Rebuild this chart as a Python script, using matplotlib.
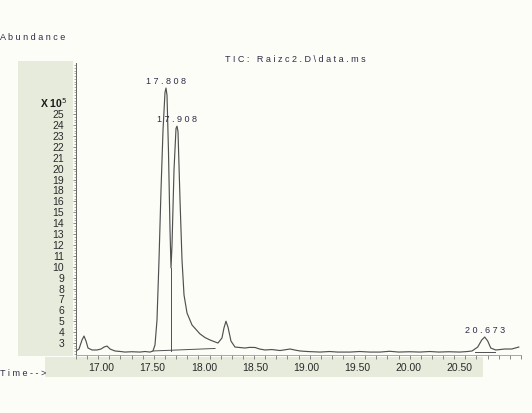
import matplotlib
matplotlib.use("Agg")
import matplotlib.pyplot as plt
from matplotlib.patches import Rectangle
from matplotlib.ticker import MultipleLocator, FixedLocator

# TIC trace: retention time (min), abundance (tick-slot units, x 10^5)
time_min = [17.000, 17.027, 17.054, 17.072, 17.090, 17.108, 17.144, 17.189, 17.225, 17.252,
            17.279, 17.306, 17.350, 17.400, 17.440, 17.500, 17.575, 17.620, 17.665, 17.692,
            17.710, 17.728, 17.746, 17.764, 17.782, 17.800, 17.809, 17.818, 17.831, 17.845,
            17.854, 17.863, 17.881, 17.899, 17.908, 17.917, 17.935, 17.953, 17.971, 17.998,
            18.043, 18.115, 18.160, 18.204, 18.250, 18.276, 18.312, 18.330, 18.348, 18.366,
            18.393, 18.429, 18.480, 18.519, 18.560, 18.609, 18.650, 18.699, 18.760, 18.834,
            18.880, 18.924, 18.970, 19.013, 19.080, 19.193, 19.280, 19.350, 19.463, 19.550,
            19.640, 19.733, 19.820, 19.900, 20.000, 20.090, 20.180, 20.260, 20.350, 20.450,
            20.520, 20.560, 20.611, 20.647, 20.674, 20.701, 20.728, 20.773, 20.810, 20.854,
            20.917, 20.980]
abundance = [2.27, 2.45, 3.28, 3.64, 3.18, 2.54, 2.36, 2.36, 2.45, 2.63,
             2.72, 2.45, 2.27, 2.22, 2.17, 2.20, 2.17, 2.22, 2.17, 2.27,
             2.82, 5.10, 10.6, 17.0, 22.5, 26.0, 26.4, 25.75, 20.7, 13.4,
             9.9, 12.0, 18.9, 22.7, 22.9, 22.4, 16.1, 10.6, 7.4, 5.75,
             4.65, 3.83, 3.50, 3.28, 3.10, 3.00, 3.46, 4.38, 5.00, 4.47,
             3.18, 2.63, 2.58, 2.54, 2.60, 2.59, 2.45, 2.36, 2.40, 2.31,
             2.38, 2.45, 2.35, 2.27, 2.22, 2.17, 2.22, 2.17, 2.17, 2.22,
             2.17, 2.17, 2.24, 2.17, 2.20, 2.17, 2.22, 2.17, 2.20, 2.17,
             2.22, 2.27, 2.63, 3.28, 3.55, 3.18, 2.54, 2.36, 2.40, 2.45,
             2.45, 2.63]

# integration marks
main_base_t = [17.692, 18.250]
main_base_y = [2.27, 2.50]
split_t = 17.854
split_top = 9.9
late_base_t = [20.584, 20.764]
late_base_y = [2.22, 2.22]

# labelled peaks
peak_times = [17.808, 17.908, 20.673]
peak_tops = [26.4, 22.9, 3.55]
peak_texts = ["17.808", "17.908", "20.673"]

# y tick labels as printed (17 is missing in the original)
ytick_labels = [3, 4, 5, 6, 7, 8, 9, 10, 11, 12, 13, 14, 15, 16, 18, 19, 20, 21, 22, 23, 24, 25]
xtick_labels = ["17.00", "17.50", "18.00", "18.50", "19.00", "19.50", "20.00", "20.50"]
xtick_values = [17.0, 17.5, 18.0, 18.5, 19.0, 19.5, 20.0, 20.5]

W, H = 532, 413
BG = "#fdfdf8"
GREEN = "#e6ebdc"
INK = "#2c2c48"
TRACE = "#505050"
tickfont = ["Liberation Sans", "DejaVu Sans"]
spaced = ["Liberation Sans", "DejaVu Sans"]


def spread(s):
    return " ".join(s)


def px(x0, y0, x1, y1):
    # pixel box (top-left origin) -> figure fraction rect
    return [x0 / W, (H - y1) / H, (x1 - x0) / W, (y1 - y0) / H]


fig = plt.figure(figsize=(W / 100, H / 100), dpi=100, facecolor=BG)

# green label panels (behind everything)
for box in [px(18, 61, 73, 356), px(45, 357, 483, 377)]:
    fig.patches.append(Rectangle((box[0], box[1]), box[2], box[3], transform=fig.transFigure,
                                 facecolor=GREEN, edgecolor="none", zorder=-5))

ax = fig.add_axes(px(76, 63, 521, 355))
ax.set_facecolor("none")
ax.plot(time_min, abundance, color=TRACE, lw=0.85)
ax.plot(main_base_t, main_base_y, color=TRACE, lw=0.7)
ax.plot([split_t, split_t], [main_base_y[0], split_top], color=TRACE, lw=0.7)
ax.plot(late_base_t, late_base_y, color=TRACE, lw=0.7)

for t, top, s in zip(peak_times, peak_tops, peak_texts):
    ax.text(t, top + 0.2, spread(s), ha="center", va="bottom", fontsize=6.5,
            color=INK, family=spaced)

ax.set_xlim(17.0, 21.0)
ax.set_ylim(1.9, 28.7)
ax.xaxis.set_major_locator(MultipleLocator(0.1))
ax.xaxis.set_ticklabels([])
ax.tick_params(axis="x", direction="out", length=3, width=0.6, color="#777777")
ax.yaxis.set_major_locator(FixedLocator(range(3, 3 + len(ytick_labels))))
ax.set_yticklabels([str(v) for v in ytick_labels], family=tickfont, fontsize=7.5, color="#2a2a2a")
ax.yaxis.set_minor_locator(MultipleLocator(0.25))
ax.tick_params(axis="y", which="major", direction="out", length=2.5, width=0.6,
               color="#777777", pad=6)
ax.tick_params(axis="y", which="minor", direction="out", length=1.5, width=0.5, color="#888888")
for side in ["top", "right"]:
    ax.spines[side].set_visible(False)
ax.spines["left"].set_color("#666666")
ax.spines["left"].set_linewidth(0.7)
ax.spines["left"].set_linestyle((0, (1, 1)))
ax.spines["bottom"].set_color("#999999")
ax.spines["bottom"].set_linewidth(0.6)

ax.text(-0.02, 1.0 - (103 - 63) / (355 - 63), r"X 10$^5$", transform=ax.transAxes,
        ha="right", va="center", fontsize=7.5, fontweight="bold", color="#1a1a1a", family=tickfont)

# bottom time-label strip
strip = fig.add_axes(px(45, 357, 483, 377))
strip.set_facecolor("none")
strip.set_xlim(16.449, 20.727)
strip.set_ylim(0, 1)
strip.axis("off")
for v, s in zip(xtick_values, xtick_labels):
    strip.text(v, 0.45, s, ha="center", va="center", fontsize=7.5, color="#2a2a2a", family=tickfont)

fig.text(0 / W, 1 - 38 / H, spread("Abundance"), ha="left", va="center", fontsize=6.5,
         color=INK, family=spaced)
fig.text(295 / W, 1 - 60 / H, spread("TIC: Raizc2.D\\data.ms"), ha="center", va="center",
         fontsize=6.5, color=INK, family=spaced)
fig.text(0 / W, 1 - 373 / H, spread("Time-->"), ha="left", va="center", fontsize=6.5,
         color=INK, family=spaced)

fig.savefig("out.png", dpi=100, facecolor=BG)
